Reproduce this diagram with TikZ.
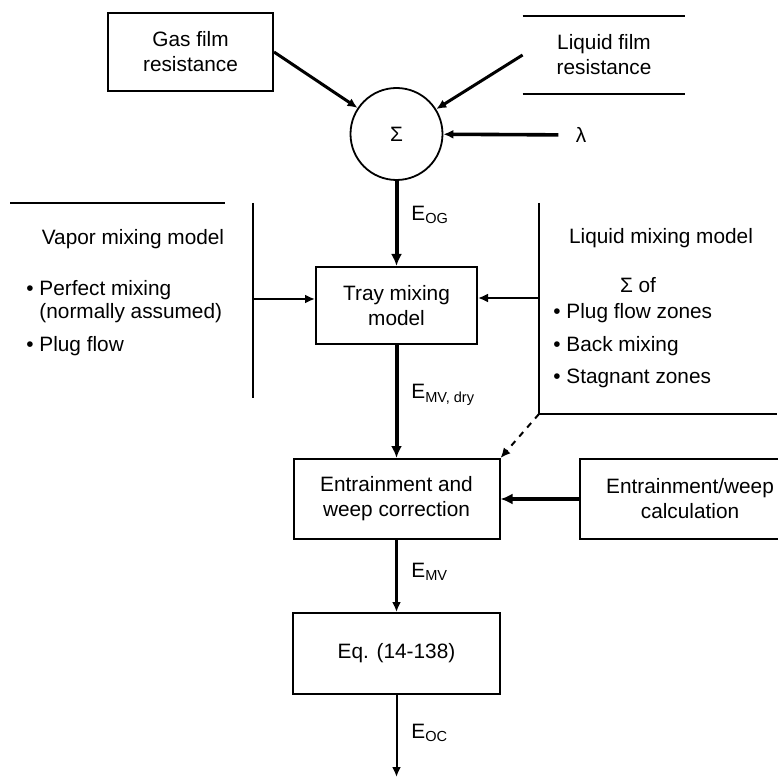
\documentclass[tikz,border=0pt]{standalone}
\usepackage{fontspec}
\setmainfont{Liberation Sans}
\usetikzlibrary{arrows.meta, positioning, calc}
\tikzset{
  blk/.style={rectangle, draw=black, line width=1pt, fill=white, align=center,
              inner sep=2pt, font=\fontsize{10.4}{12.5}\selectfont},
  sumnode/.style={circle, draw=black, line width=0.9pt, minimum size=46pt,
              inner sep=0pt, font=\fontsize{10.4}{12.5}\selectfont},
  txt/.style={font=\fontsize{10.4}{12.5}\selectfont, inner sep=0pt},
  guide/.style={draw=black, line width=1pt},
  flow/.style={-{Latex[length=5pt,width=4.5pt]}, draw=black, line width=1pt},
  flowmain/.style={-{Latex[length=6pt,width=5.5pt]}, draw=black, line width=2pt},
  lbl/.style={font=\fontsize{10.4}{12.5}\selectfont, anchor=west, inner sep=0pt},
}

\begin{document}
\begin{tikzpicture}[x=0.5pt, y=-0.5pt]
  \path[fill=white] (0,0) rectangle (777,779);
  \useasboundingbox (0,0) rectangle (777,779);
  % film resistances and the sum
  \node[blk, minimum width=82.5pt, minimum height=39pt] (gasfilm) at (190.5,52) {Gas film\\resistance};
  \node[txt, align=center, minimum width=81pt, minimum height=39pt] (liqfilm) at (604,55) {Liquid film\\resistance};
  \draw[guide] (liqfilm.north west) -- (liqfilm.north east);
  \draw[guide] (liqfilm.south west) -- (liqfilm.south east);
  \node[sumnode] (sum) at (396.5,134) {Σ};
  \node[txt, inner sep=8.5pt] (lam) at (581,135) {λ};
  \draw[flow, line width=1.5pt] (gasfilm.east) -- (sum);
  \draw[flow, line width=1.5pt] (liqfilm.west) -- (sum);
  \draw[flow, line width=1.8pt] (lam) -- (sum);
  \node[lbl] (eog) at (411,215) {E\textsubscript{OG}};
  % tray mixing
  \node[blk, minimum width=80.5pt, minimum height=38.5pt] (tray) at (396.5,305.5) {Tray mixing\\model};
  \draw[flowmain] (sum) -- (tray);
  % vapor side
  \coordinate (vapleft) at (10,203);
  \coordinate (vapright) at (225,203);
  \coordinate (vaptop) at (253,203);
  \coordinate (vapbot) at (253,398);
  \coordinate (vapjoin) at (253,299);
  \draw[guide] (vapleft) -- (vapright);
  \draw[guide] (vaptop) -- (vapbot);
  \node[txt, anchor=base] (vaptitle) at (133,245) {Vapor mixing model};
  \node[txt, anchor=base west] (vapone) at (26,296) {\textbullet\ Perfect mixing};
  \node[txt, anchor=base west] (vaponeb) at (26,319) {\phantom{\textbullet\ }(normally assumed)};
  \node[txt, anchor=base west] (vaptwo) at (26,352) {\textbullet\ Plug flow};
  \draw[flow] (vapjoin) -- (vapjoin -| tray.west);
  % liquid side
  \coordinate (liqtop) at (539,203);
  \coordinate (liqjoin) at (539,298);
  \coordinate (liqcorner) at (539,414);
  \coordinate (liqend) at (777,414);
  \draw[guide] (liqtop) -- (liqcorner) -- (liqend);
  \node[txt, anchor=base] (liqtitle) at (661,244) {Liquid mixing model};
  \node[txt, anchor=base] (liqsum) at (638,293) {Σ of};
  \node[txt, anchor=base west] (liqone) at (553,319) {\textbullet\ Plug flow zones};
  \node[txt, anchor=base west] (liqtwo) at (553,352) {\textbullet\ Back mixing};
  \node[txt, anchor=base west] (liqthree) at (553,384) {\textbullet\ Stagnant zones};
  \draw[flow, line width=1.4pt] (liqjoin) -- (liqjoin -| tray.east);
  \node[lbl] (emvdry) at (411,395) {E\textsubscript{MV, dry}};
  % entrainment and weep
  \node[blk, minimum width=103pt, minimum height=40pt] (entrain) at (396.5,499) {Entrainment and\\weep correction};
  \node[blk, minimum width=110pt, minimum height=40pt] (weepcalc) at (690,499) {Entrainment/weep\\calculation};
  \draw[flowmain] (tray) -- (entrain);
  \draw[flow, dashed] (liqcorner) -- (entrain.north east);
  \draw[flowmain] (weepcalc) -- (entrain);
  \node[lbl] (emv) at (411,572) {E\textsubscript{MV}};
  % overall column efficiency
  \node[blk, minimum width=103.5pt, minimum height=40.5pt] (eqbox) at (396.5,653.5) {Eq. (14-138)};
  \draw[flow, line width=1.3pt] (entrain) -- (eqbox);
  \coordinate (out) at (396.5,777);
  \draw[flow] (eqbox) -- (out);
  \node[lbl] (eoc) at (411,733) {E\textsubscript{OC}};
\end{tikzpicture}
\end{document}
